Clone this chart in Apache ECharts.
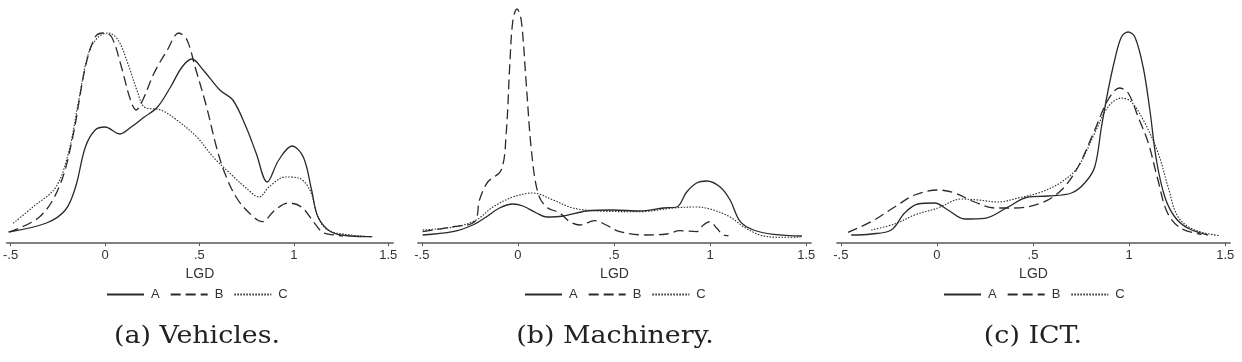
<!DOCTYPE html>
<html>
<head>
<meta charset="utf-8">
<script src="https://cdn.jsdelivr.net/npm/echarts@6/dist/echarts.min.js"></script>
<style>
  html, body { margin: 0; padding: 0; background: #fff; }
  #chart { width: 1242px; height: 362px; }
</style>
</head>
<body>
<div id="chart"></div>
<script>
// x ticks shared by the three panels
const xTicks = [-0.5, 0, 0.5, 1, 1.5];
const seriesNames = ['A', 'B', 'C'];
const captions = ['(a) Vehicles.', '(b) Machinery.', '(c) ICT.'];

// (a) Vehicles  [LGD, density]
const vehA = [[-0.51,0.06],[-0.31,0.15],[-0.21,0.28],[-0.156,0.51],[-0.104,0.91],[-0.052,1.08],[0,1.11],[0.078,1.04],[0.139,1.11],[0.208,1.21],[0.278,1.31],[0.347,1.51],[0.408,1.71],[0.46,1.79],[0.52,1.68],[0.608,1.48],[0.677,1.38],[0.747,1.11],[0.8,0.85],[0.859,0.56],[0.92,0.78],[0.99,0.92],[1.05,0.81],[1.094,0.48],[1.128,0.21],[1.198,0.06],[1.3,0.02],[1.415,0.013]];
const vehB = [[-0.51,0.06],[-0.347,0.21],[-0.243,0.51],[-0.174,0.98],[-0.104,1.71],[-0.052,2.01],[-0.009,2.05],[0.035,2.01],[0.087,1.71],[0.13,1.41],[0.165,1.28],[0.2,1.38],[0.26,1.65],[0.33,1.88],[0.39,2.05],[0.434,1.98],[0.477,1.71],[0.538,1.31],[0.59,0.91],[0.634,0.65],[0.694,0.41],[0.764,0.25],[0.833,0.163],[0.9,0.28],[0.972,0.35],[1.04,0.31],[1.11,0.147],[1.155,0.053],[1.215,0.03],[1.26,0.02]];
const vehC = [[-0.486,0.147],[-0.382,0.31],[-0.26,0.51],[-0.19,0.88],[-0.139,1.38],[-0.087,1.85],[-0.035,2.01],[0.017,2.05],[0.069,1.98],[0.12,1.75],[0.174,1.45],[0.208,1.31],[0.295,1.28],[0.38,1.18],[0.486,1.01],[0.573,0.81],[0.66,0.65],[0.747,0.5],[0.816,0.41],[0.868,0.51],[0.955,0.61],[1.024,0.6],[1.085,0.48],[1.128,0.21],[1.18,0.08],[1.3,0.03],[1.406,0.013]];

// (b) Machinery
const macA = [[-0.496,0.03],[-0.339,0.063],[-0.235,0.13],[-0.165,0.21],[-0.096,0.3],[-0.026,0.34],[0.026,0.32],[0.096,0.25],[0.148,0.21],[0.235,0.22],[0.357,0.27],[0.496,0.28],[0.635,0.27],[0.757,0.3],[0.826,0.31],[0.878,0.46],[0.93,0.55],[0.983,0.57],[1.052,0.51],[1.104,0.38],[1.157,0.163],[1.226,0.08],[1.33,0.037],[1.478,0.02]];
const macB = [[-0.496,0.063],[-0.339,0.113],[-0.226,0.163],[-0.2,0.38],[-0.157,0.56],[-0.087,0.68],[-0.061,1.05],[-0.043,1.71],[-0.026,2.18],[-0.005,2.29],[0.017,2.18],[0.043,1.55],[0.07,0.88],[0.104,0.45],[0.148,0.31],[0.217,0.25],[0.27,0.163],[0.322,0.13],[0.4,0.173],[0.46,0.13],[0.53,0.063],[0.67,0.03],[0.774,0.04],[0.843,0.073],[0.93,0.063],[0.965,0.13],[1.0,0.163],[1.035,0.097],[1.07,0.03],[1.096,0.023]];
const macC = [[-0.496,0.08],[-0.322,0.113],[-0.217,0.18],[-0.13,0.31],[-0.026,0.41],[0.078,0.45],[0.183,0.38],[0.287,0.3],[0.426,0.27],[0.635,0.263],[0.809,0.3],[0.93,0.31],[1.017,0.28],[1.104,0.21],[1.174,0.113],[1.26,0.03],[1.365,0.007],[1.47,0.007]];

// (c) ICT
const ictA = [[-0.446,0.03],[-0.342,0.04],[-0.238,0.08],[-0.168,0.25],[-0.099,0.34],[-0.012,0.35],[0.057,0.28],[0.144,0.19],[0.248,0.197],[0.37,0.31],[0.474,0.41],[0.578,0.42],[0.7,0.45],[0.769,0.55],[0.821,0.71],[0.856,1.11],[0.891,1.48],[0.925,1.78],[0.96,2.01],[0.995,2.06],[1.03,2.01],[1.073,1.71],[1.108,1.28],[1.142,0.78],[1.186,0.41],[1.238,0.21],[1.307,0.097],[1.41,0.03]];
const ictB = [[-0.463,0.057],[-0.342,0.163],[-0.22,0.31],[-0.116,0.43],[0.005,0.48],[0.092,0.45],[0.196,0.36],[0.3,0.3],[0.405,0.3],[0.543,0.35],[0.648,0.48],[0.734,0.71],[0.821,1.08],[0.89,1.38],[0.95,1.5],[0.995,1.45],[1.047,1.21],[1.1,0.95],[1.15,0.58],[1.2,0.25],[1.27,0.097],[1.377,0.037]];
const ictC = [[-0.342,0.08],[-0.22,0.14],[-0.116,0.23],[0.005,0.3],[0.127,0.39],[0.214,0.38],[0.318,0.36],[0.422,0.4],[0.543,0.46],[0.648,0.56],[0.734,0.71],[0.821,1.05],[0.89,1.31],[0.96,1.4],[1.012,1.36],[1.082,1.15],[1.151,0.85],[1.203,0.51],[1.255,0.21],[1.342,0.08],[1.472,0.023]];

const panels = [[vehA, vehB, vehC], [macA, macB, macC], [ictA, ictB, ictC]];

const gridLeft = [0, 418, 837];
const legendLeft = [106, 524, 943];
const captionX = [197, 615, 1033];
const lineColor = '#2a2a2a';
const dashTypes = ['solid', [10, 5], [1.5, 1.5]];
const sans = 'Liberation Sans, Arial, Helvetica, sans-serif';
const serif = 'DejaVu Serif, serif';
const capSize = 24;
const capScale = 1.12;

let chart = echarts.init(document.getElementById('chart'));

// measure captions so they can be centred under the .5 tick
let ctx = document.createElement('canvas').getContext('2d');
ctx.font = capSize + 'px DejaVu Serif';

let grids = [], xAxes = [], yAxes = [], series = [], legends = [], texts = [];
for (let p = 0; p < 3; p++) {
  grids.push({ left: gridLeft[p], top: 3, width: 393, height: 240 });
  xAxes.push({
    type: 'value',
    gridIndex: p,
    min: -0.52,
    max: 1.525,
    name: 'LGD',
    nameLocation: 'middle',
    nameGap: 24,
    nameTextStyle: { fontFamily: sans, fontSize: 14, color: '#333' },
    axisLine: { onZero: false, lineStyle: { color: '#808080', width: 1.8 } },
    axisTick: { show: true, customValues: xTicks, length: 3, lineStyle: { color: '#555', width: 1 } },
    axisLabel: {
      customValues: xTicks,
      margin: 6,
      fontFamily: sans,
      fontSize: 13,
      color: '#333',
      formatter: function (v) {
        if (v === -0.5) return '-.5';
        if (v === 0.5) return '.5';
        return String(v);
      }
    },
    splitLine: { show: false }
  });
  yAxes.push({ type: 'value', gridIndex: p, min: -0.05, max: 2.35, show: false });
  for (let s = 0; s < 3; s++) {
    series.push({
      name: seriesNames[s],
      type: 'line',
      xAxisIndex: p,
      yAxisIndex: p,
      data: panels[p][s],
      smooth: 0.35,
      showSymbol: false,
      symbol: 'none',
      silent: true,
      lineStyle: { color: lineColor, width: s === 2 ? 1.1 : 1.3, type: dashTypes[s] },
      itemStyle: { color: lineColor }
    });
  }
  legends.push({
    data: seriesNames,
    left: legendLeft[p],
    top: 288,
    padding: 0,
    orient: 'horizontal',
    itemWidth: 37,
    itemHeight: 12,
    itemGap: 10,
    selectedMode: false,
    itemStyle: { opacity: 0 },
    textStyle: { fontFamily: sans, fontSize: 13, color: '#333', padding: [0, 0, 0, 2] }
  });
  let w = ctx.measureText(captions[p]).width * capScale;
  texts.push({
    type: 'text',
    left: captionX[p] - w / 2,
    top: 325,
    scaleX: capScale,
    style: {
      text: captions[p],
      fontFamily: serif,
      fontSize: capSize,
      fill: '#222'
    }
  });
}

let option = {
  animation: false,
  backgroundColor: '#fff',
  grid: grids,
  xAxis: xAxes,
  yAxis: yAxes,
  legend: legends,
  series: series,
  graphic: texts
};
chart.setOption(option);
</script>
</body>
</html>
